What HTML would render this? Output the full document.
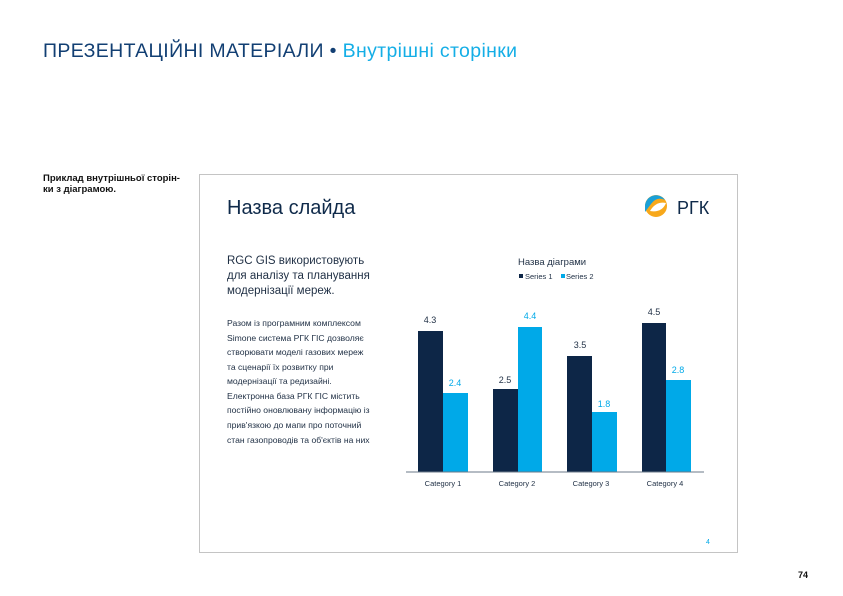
<!DOCTYPE html>
<html><head><meta charset="utf-8"><style>
body{margin:0;width:843px;height:596px;background:#fff;position:relative;overflow:hidden;font-family:"Liberation Sans",sans-serif}
.a{position:absolute;white-space:nowrap}
</style></head><body>
<div class="a" style="left:43px;top:40px;font-size:19.5px;color:#123f73;letter-spacing:0.35px">ПРЕЗЕНТАЦІЙНІ МАТЕРІАЛИ • <span style="color:#14aee6">Внутрішні сторінки</span></div>
<div class="a" style="left:43px;top:173px;font-size:9.5px;font-weight:bold;color:#111;line-height:11px">Приклад внутрішньої сторін-<br>ки з діаграмою.</div>
<div class="a" style="left:199px;top:174px;width:539px;height:379px;border:1px solid #c4c4c4;box-sizing:border-box"></div>
<svg class="a" style="left:0;top:0" width="843" height="596">
<text x="227" y="214" font-size="20" fill="#0f2a4a" font-family="Liberation Sans">Назва слайда</text>
<circle cx="656" cy="206" r="11" fill="#f7a81b"/>
<path d="M645,206 a11,11 0 0 1 20,-6 q-8,-4 -14,4 q-3,4 -6,8z" fill="#1aa0d8"/>
<path d="M650,211 q6,-10 16,-8 q-4,10 -16,8z" fill="#fff"/>
<text x="677" y="214" font-size="18" fill="#0f2a4a">РГК</text>
<g font-size="11.5" fill="#1f2f44">
<text x="227" y="264">RGC GIS використовують</text>
<text x="227" y="279">для аналізу та планування</text>
<text x="227" y="294">модернізації мереж.</text>
</g>
<g font-size="8.6" fill="#1f2f44">
<text x="227" y="326">Разом із програмним комплексом</text>
<text x="227" y="341">Simone система РГК ГІС дозволяє</text>
<text x="227" y="355">створювати моделі газових мереж</text>
<text x="227" y="370">та сценарії їх розвитку при</text>
<text x="227" y="384">модернізації та редизайні.</text>
<text x="227" y="399">Електронна база РГК ГІС містить</text>
<text x="227" y="413">постійно оновлювану інформацію із</text>
<text x="227" y="428">прив'язкою до мапи про поточний</text>
<text x="227" y="443">стан газопроводів та об'єктів на них</text>
</g>
<text x="518" y="265" font-size="9.5" fill="#1f2f44">Назва діаграми</text>
<rect x="519" y="274" width="4" height="4" fill="#0d2647"/>
<text x="525" y="279" font-size="7.5" fill="#1f2f44">Series 1</text>
<rect x="561" y="274" width="4" height="4" fill="#00a9e8"/>
<text x="566" y="279" font-size="7.5" fill="#1f2f44">Series 2</text>
<g fill="#0d2647">
<rect x="418" y="331" width="25" height="141"/>
<rect x="493" y="389" width="25" height="83"/>
<rect x="567" y="356" width="25" height="116"/>
<rect x="642" y="323" width="24" height="149"/>
</g>
<g fill="#00a9e8">
<rect x="443" y="393" width="25" height="79"/>
<rect x="518" y="327" width="24" height="145"/>
<rect x="592" y="412" width="25" height="60"/>
<rect x="666" y="380" width="25" height="92"/>
</g>
<line x1="406" y1="472" x2="704" y2="472" stroke="#6b7a88" stroke-width="1"/>
<g font-size="9" text-anchor="middle" fill="#1f2f44">
<text x="430" y="323">4.3</text><text x="505" y="383">2.5</text><text x="580" y="348">3.5</text><text x="654" y="315">4.5</text>
</g>
<g font-size="9" text-anchor="middle" fill="#00a9e8">
<text x="455" y="386">2.4</text><text x="530" y="319">4.4</text><text x="604" y="407">1.8</text><text x="678" y="373">2.8</text>
</g>
<g font-size="7.5" text-anchor="middle" fill="#1f2f44">
<text x="443" y="486">Category 1</text><text x="517" y="486">Category 2</text><text x="591" y="486">Category 3</text><text x="665" y="486">Category 4</text>
</g>
<text x="708" y="544" font-size="7" fill="#00a9e8" text-anchor="middle">4</text>
<text x="808" y="578" font-size="9" font-weight="bold" fill="#111" text-anchor="end">74</text>
</svg>
</body></html>
